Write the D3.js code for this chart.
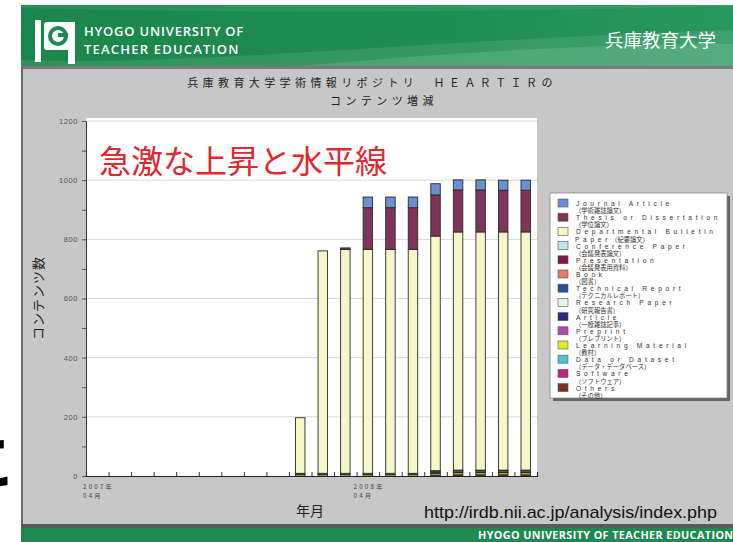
<!DOCTYPE html>
<html>
<head>
<meta charset="utf-8">
<script src="https://cdn.jsdelivr.net/npm/d3@7/dist/d3.min.js"></script>
<style>
  body { margin: 0; background: #fff; }
  svg { display: block; }
  text { font-family: "Liberation Sans", Arial, sans-serif; }
  .ja { font-family: "Noto Sans CJK JP", sans-serif; }
</style>
</head>
<body>
<div id="chart"></div>
<script>
// months on the x axis (2007/04 .. 2008/11)
const months = ['2007-04','2007-05','2007-06','2007-07','2007-08','2007-09','2007-10','2007-11','2007-12',
  '2008-01','2008-02','2008-03','2008-04','2008-05','2008-06','2008-07','2008-08','2008-09','2008-10','2008-11']

const categories = ['Journal Article','Thesis or Dissertation','Departmental Bulletin Paper','Conference Paper',
  'Presentation','Book','Technical Report','Research Paper','Article','Preprint','Learning Material',
  'Data or Dataset','Software','Others']
// legend text: [latin line, latin prefix of 2nd line, japanese part of 2nd line]
const legendLines = [
  ['Journal Article','','（学術雑誌論文）'],
  ['Thesis or Dissertation','','（学位論文）'],
  ['Departmental Bulletin','Paper','（紀要論文）'],
  ['Conference Paper','','（会議発表論文）'],
  ['Presentation','','（会議発表用資料）'],
  ['Book','','（図書）'],
  ['Technical Report','','（テクニカルレポート）'],
  ['Research Paper','','（研究報告書）'],
  ['Article','','（一般雑誌記事）'],
  ['Preprint','','（プレプリント）'],
  ['Learning Material','','（教材）'],
  ['Data or Dataset','','（データ・データベース）'],
  ['Software','','（ソフトウェア）'],
  ['Others','','（その他）']
]
const colors = ['#6b8fcf','#7f3459','#f6f6c8','#bfe4ec','#7b1a48','#e8796b','#2b4ba3','#e2f1f5',
  '#2b2b7c','#b24ba2','#e6e632','#52c1d2','#c42283','#7c3022']

// series values per month (empty series are 0)
const journalArticle   = [0,0,0,0,0,0,0,0,0, 0,0,0,36,36,36,38,34,34,34,34]
const thesis           = [0,0,0,0,0,0,0,0,0, 0,0,5,141,141,141,139,142,142,141,141]
const departmental     = [0,0,0,0,0,0,0,0,0, 188,752,757,757,757,757,793,805,805,805,805]
const technicalReport  = [0,0,0,0,0,0,0,0,0, 0,0,0,0,0,0,2,2,2,2,2]
const researchPaper    = [0,0,0,0,0,0,0,0,0, 0,0,0,0,0,0,4,4,4,4,4]
const article          = [0,0,0,0,0,0,0,0,0, 3,3,3,3,3,3,3,3,3,3,3]
const learningMaterial = [0,0,0,0,0,0,0,0,0, 6,6,6,6,6,6,6,7,7,7,7]
const others           = [0,0,0,0,0,0,0,0,0, 0,0,0,0,0,0,3,4,4,4,4]

const yTicks = [0,200,400,600,800,1000,1200]

const seriesByName = {
  'Journal Article': journalArticle,
  'Thesis or Dissertation': thesis,
  'Departmental Bulletin Paper': departmental,
  'Technical Report': technicalReport,
  'Research Paper': researchPaper,
  'Article': article,
  'Learning Material': learningMaterial,
  'Others': others
}

let W = 733, H = 542
let svg = d3.select('#chart').append('svg').attr('width', W).attr('height', H)

//
// slide frame
//
let defs = svg.append('defs')
let grad = defs.append('linearGradient').attr('id','hdr').attr('x1',0).attr('x2',1).attr('y1',0).attr('y2',0)
grad.append('stop').attr('offset','0%').attr('stop-color','#1a864c')
grad.append('stop').attr('offset','60%').attr('stop-color','#1f8d52')
grad.append('stop').attr('offset','100%').attr('stop-color','#2a9760')

svg.append('rect').attr('x',21).attr('y',5).attr('width',W-21).attr('height',61).attr('fill','url(#hdr)')
svg.append('path').attr('d','M21,60 C200,66 420,40 733,30 L733,66 L21,66 Z').attr('fill','#fff').attr('opacity',0.10)
svg.append('path').attr('d','M300,66 C450,52 600,44 733,44 L733,66 Z').attr('fill','#fff').attr('opacity',0.12)
svg.append('path').attr('d','M21,8 C250,14 500,12 733,6 L733,5 L21,5 Z').attr('fill','#fff').attr('opacity',0.08)

// logo
let logo = svg.append('g')
logo.append('rect').attr('x',35).attr('y',20).attr('width',6).attr('height',42).attr('fill','#fff')
logo.append('rect').attr('x',44).attr('y',22).attr('width',31).attr('height',28).attr('rx',3).attr('fill','#fff')
logo.append('rect').attr('x',68).attr('y',22).attr('width',7).attr('height',42).attr('fill','#fff')
logo.append('circle').attr('cx',58).attr('cy',36).attr('r',8).attr('fill','none').attr('stroke','#1d8a50').attr('stroke-width',4)
logo.append('rect').attr('x',58).attr('y',33).attr('width',10).attr('height',4).attr('fill','#1d8a50')

svg.append('text').attr('x',84).attr('y',36).attr('fill','#fff')
  .style('font-family','"Open Sans", sans-serif').style('font-size','13px').style('font-weight',600)
  .style('letter-spacing','0.8px').text('HYOGO UNIVERSITY OF')
svg.append('text').attr('x',84).attr('y',54).attr('fill','#fff')
  .style('font-family','"Open Sans", sans-serif').style('font-size','13px').style('font-weight',600)
  .style('letter-spacing','1.2px').text('TEACHER EDUCATION')
svg.append('text').attr('class','ja').attr('x',716).attr('y',47).attr('text-anchor','end').attr('fill','#fff')
  .style('font-size','18.5px').text('兵庫教育大学')

// gray chart area
svg.append('rect').attr('x',21).attr('y',66).attr('width',W-21).attr('height',460).attr('fill','#c7c7c7')
svg.append('rect').attr('x',21).attr('y',66).attr('width',W-21).attr('height',3).attr('fill','#7a7a7a')
svg.append('rect').attr('x',21).attr('y',66).attr('width',2).attr('height',460).attr('fill','#6a6a6a')
svg.append('rect').attr('x',21).attr('y',524).attr('width',W-21).attr('height',4).attr('fill','#5a5a5a')
svg.append('rect').attr('x',21).attr('y',528).attr('width',W-21).attr('height',14).attr('fill','#1e8a50')
svg.append('text').attr('x',478).attr('y',539).attr('fill','#fff')
  .style('font-family','"Open Sans", sans-serif').style('font-size','10.8px').style('font-weight',700)
  .style('letter-spacing','0.4px').text('HYOGO UNIVERSITY OF TEACHER EDUCATION')

// stray glyph at the left edge
svg.append('text').attr('class','ja').attr('x',-43).attr('y',484).attr('fill','#000')
  .style('font-size','60px').style('font-weight',700).text('こ')

//
// chart
//
let plot = { left: 86, right: 537, top: 121, bottom: 476 }

let x = d3.scaleBand().domain(months).range([plot.left, plot.right]).paddingInner(0.58).paddingOuter(0.29)
let xEdge = d3.scaleLinear().domain([0, months.length]).range([plot.left, plot.right])
let y = d3.scaleLinear().domain([0, 1200]).range([plot.bottom, plot.top])

svg.append('rect').attr('x',plot.left).attr('y',plot.top - 3).attr('width',plot.right - plot.left)
  .attr('height',plot.bottom - plot.top + 3).attr('fill','#fff')

// gridlines
svg.append('g').selectAll('line').data(yTicks.filter(d => d > 0)).enter().append('line')
  .attr('x1',plot.left).attr('x2',plot.right).attr('y1',d => y(d)).attr('y2',d => y(d))
  .attr('stroke','#d9d9d9').attr('stroke-width',1)

// red annotation
svg.append('text').attr('class','ja').attr('x',99).attr('y',173).attr('fill','#e2282f')
  .style('font-size','32px').text('急激な上昇と水平線')

// stacked bars
let keys = categories.slice().reverse()
let rows = months.map((m, i) => {
  let r = { month: m }
  keys.forEach(k => { r[k] = seriesByName[k] ? seriesByName[k][i] : 0 })
  return r
})
let stacked = d3.stack().keys(keys)(rows)
let color = d3.scaleOrdinal().domain(categories).range(colors)

svg.append('g').selectAll('g').data(stacked).enter().append('g')
    .attr('fill', d => color(d.key))
  .selectAll('rect').data(d => d.filter(p => p[1] - p[0] > 0)).enter().append('rect')
    .attr('x', d => x(d.data.month))
    .attr('width', x.bandwidth())
    .attr('y', d => y(d[1]))
    .attr('height', d => y(d[0]) - y(d[1]))
    .attr('stroke','#2a2a2a').attr('stroke-width',0.9)

// y axis
let yAxis = d3.axisLeft(y).tickValues(d3.range(0, 1201, 100)).tickSize(4)
  .tickFormat(d => d % 200 === 0 ? d : '')
let yg = svg.append('g').attr('transform',`translate(${plot.left},0)`).call(yAxis)
yg.select('.domain').attr('stroke','#333')
yg.selectAll('.tick line').attr('stroke','#555')
yg.selectAll('.tick text').attr('fill','#555').attr('x',-8)
  .style('font-size','7.5px').style('letter-spacing','0.6px')

// x axis (ticks at month boundaries, pointing up)
let xAxis = d3.axisBottom(xEdge).tickValues(d3.range(0, months.length + 1)).tickSize(-4).tickFormat('')
let xg = svg.append('g').attr('transform',`translate(0,${plot.bottom})`).call(xAxis)
xg.select('.domain').attr('stroke','#222').attr('stroke-width',1.2)
xg.selectAll('.tick line').attr('stroke','#333')

let xLabels = months.map((m, i) => ({ m, i })).filter(d => d.m.endsWith('-04'))
let xl = svg.append('g').selectAll('g').data(xLabels).enter().append('g')
  .attr('transform', d => `translate(${xEdge(d.i) - 3},0)`)
xl.append('text').attr('class','ja').attr('y',489).attr('fill','#444')
  .style('font-size','6.2px').style('letter-spacing','2.2px').text(d => d.m.slice(0,4) + '年')
xl.append('text').attr('class','ja').attr('y',498).attr('fill','#444')
  .style('font-size','6.2px').style('letter-spacing','2.2px').text(d => d.m.slice(5) + '月')

// titles
svg.append('text').attr('class','ja').attr('x',372).attr('y',87).attr('text-anchor','middle').attr('fill','#222')
  .style('font-size','11px').style('letter-spacing','4.4px').text('兵庫教育大学学術情報リポジトリ　ＨＥＡＲＴＩＲの')
svg.append('text').attr('class','ja').attr('x',384).attr('y',105).attr('text-anchor','middle').attr('fill','#222')
  .style('font-size','11px').style('letter-spacing','4.4px').text('コンテンツ増減')
svg.append('text').attr('class','ja').attr('transform','translate(43,298) rotate(-90)')
  .attr('text-anchor','middle').attr('fill','#222').style('font-size','13px').style('letter-spacing','1px')
  .text('コンテンツ数')
svg.append('text').attr('class','ja').attr('x',310).attr('y',516).attr('text-anchor','middle').attr('fill','#222')
  .style('font-size','14px').text('年月')
svg.append('text').attr('x',424).attr('y',518).attr('fill','#111')
  .attr('textLength',293).attr('lengthAdjust','spacingAndGlyphs')
  .style('font-size','17px').text('http://irdb.nii.ac.jp/analysis/index.php')

//
// legend
//
let lg = svg.append('g')
lg.append('rect').attr('x',553).attr('y',196).attr('width',177).attr('height',205).attr('fill','#666')
lg.append('rect').attr('x',550).attr('y',193).attr('width',177).attr('height',205)
  .attr('fill','#fff').attr('stroke','#888').attr('stroke-width',0.8)

let item = lg.selectAll('g').data(legendLines).enter().append('g')
  .attr('transform', (d,i) => `translate(0,${199 + i * 14.2})`)
item.append('rect').attr('x',558).attr('y',0).attr('width',10).attr('height',8)
  .attr('fill', (d,i) => colors[i]).attr('stroke','#555').attr('stroke-width',0.6)
item.append('text').attr('x',576).attr('y',7).attr('fill','#333')
  .style('font-size','6.6px').style('letter-spacing','3.7px').text(d => d[0])
let second = item.append('text').attr('x',575).attr('y',14.2).attr('fill','#333')
second.append('tspan').style('font-size','6.6px').style('letter-spacing','3.7px').text(d => d[1])
second.append('tspan').attr('class','ja').style('font-size','6.3px').text(d => d[2])
</script>
</body>
</html>
